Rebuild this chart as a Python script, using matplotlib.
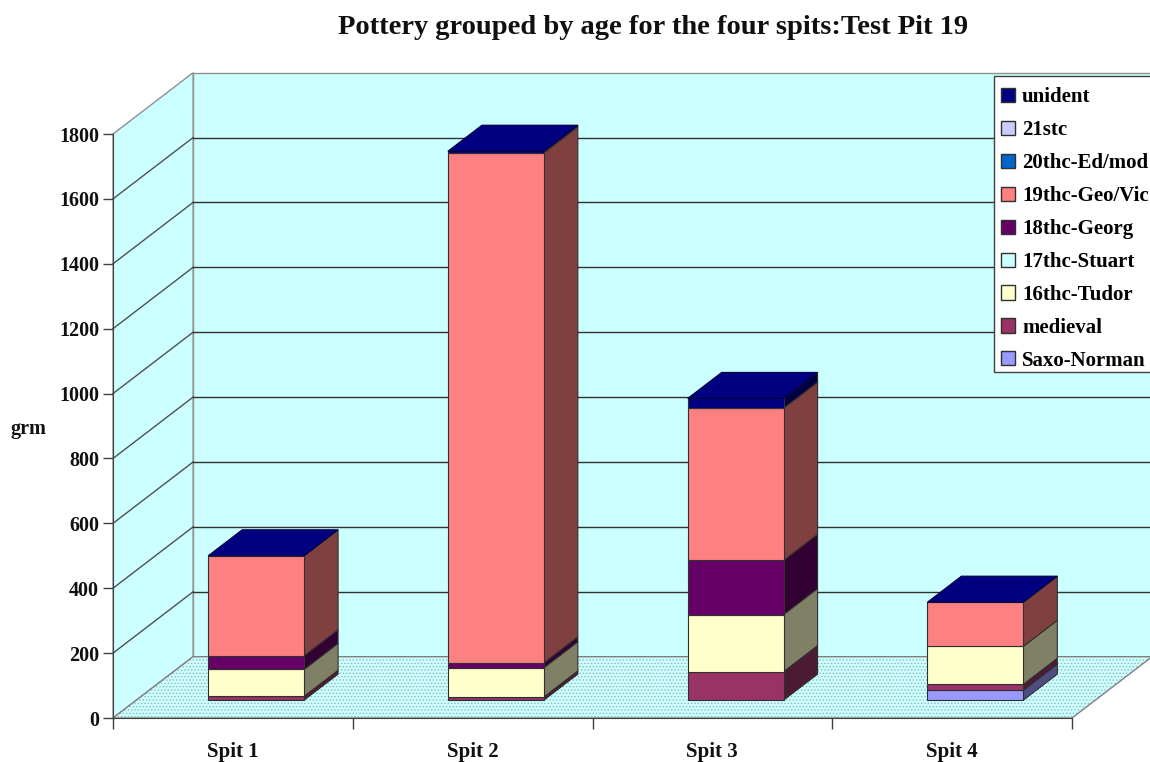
import matplotlib
matplotlib.use("Agg")
import matplotlib.pyplot as plt
from matplotlib.patches import Patch, Rectangle
from matplotlib.colors import to_rgb

spits = ["Spit 1", "Spit 2", "Spit 3", "Spit 4"]
yticks = [0, 200, 400, 600, 800, 1000, 1200, 1400, 1600, 1800]

# bottom of the stack first
series = ["Saxo-Norman", "medieval", "16thc-Tudor", "17thc-Stuart", "18thc-Georg",
          "19thc-Geo/Vic", "20thc-Ed/mod", "21stc", "unident"]
saxo = [0, 0, 0, 31]
medieval = [12, 10, 88, 18]
tudor = [83, 90, 176, 117]
stuart = [0, 0, 0, 0]
georg = [42, 15, 167, 0]
geovic = [308, 1572, 469, 136]
edmod = [0, 0, 0, 0]
c21 = [0, 0, 0, 0]
unident = [0, 5, 30, 0]
values = [saxo, medieval, tudor, stuart, georg, geovic, edmod, c21, unident]
colors = ["#9999FF", "#993366", "#FFFFCC", "#CCFFFF", "#660066",
          "#FF8080", "#0066CC", "#CCCCFF", "#000080"]

plt.rcParams["font.family"] = ["Liberation Serif"]
plt.rcParams["font.weight"] = "bold"
plt.rcParams["hatch.linewidth"] = 0.6

fig = plt.figure(figsize=(11.5, 7.62), dpi=100)
ax = fig.add_axes([113 / 1150, 44 / 762, 959 / 1150, 584 / 762])
ax.set_xlim(0, 4)
ax.set_ylim(0, 1800)
ax.patch.set_visible(False)

# depth of the box in data units
dx = 0.334
dy = 189


def proj(x, v, d):
    return x + d * dx, v + d * dy


def face(pts, **kw):
    xs = [proj(*p)[0] for p in pts]
    ys = [proj(*p)[1] for p in pts]
    ax.fill(xs, ys, clip_on=False, **kw)


top = 1800
# walls and floor
face([(0, 0, 1), (4, 0, 1), (4, top, 1), (0, top, 1)], facecolor="#CCFFFF", edgecolor="#909090", lw=1, zorder=1)
face([(0, 0, 0), (0, 0, 1), (0, top, 1), (0, top, 0)], facecolor="#CCFFFF", edgecolor="#909090", lw=1, zorder=1)
floor = [(0, 0, 0), (4, 0, 0), (4, 0, 1), (0, 0, 1)]
face(floor, facecolor="#CCFFFF", edgecolor="#8FB8B8", lw=0, hatch=".....", zorder=1)
face(floor, fill=False, edgecolor="#808080", lw=1, zorder=1)

for t in yticks[1:-1]:
    x0, y0 = proj(0, t, 0)
    x1, y1 = proj(0, t, 1)
    x2, y2 = proj(4, t, 1)
    ax.plot([x0, x1], [y0, y1], color="#505050", lw=1, clip_on=False, zorder=2)
    ax.plot([x1, x2], [y1, y2], color="#303030", lw=1, clip_on=False, zorder=2)

# stacked bars
width = 0.4
d0 = 0.29
d1 = 0.715
for i in range(len(spits)):
    xl = i + 0.5 - width / 2
    xr = i + 0.5 + width / 2
    base = 0
    for vals, col in zip(values, colors):
        v = vals[i]
        if v > 0:
            side = tuple(c * 0.5 for c in to_rgb(col))
            face([(xr, base, d0), (xr, base, d1), (xr, base + v, d1), (xr, base + v, d0)],
                 facecolor=side, edgecolor="#303030", lw=0.8, zorder=3)
            face([(xl, base, d0), (xr, base, d0), (xr, base + v, d0), (xl, base + v, d0)],
                 facecolor=col, edgecolor="#303030", lw=0.8, zorder=4)
        base += v
    face([(xl, base, d0), (xr, base, d0), (xr, base, d1), (xl, base, d1)],
         facecolor=colors[-1], edgecolor="#000040", lw=0.8, zorder=5)

# axes
for s in ["top", "right"]:
    ax.spines[s].set_visible(False)
for s in ["left", "bottom"]:
    ax.spines[s].set_color("#404040")
    ax.spines[s].set_zorder(6)
ax.set_yticks(yticks)
ax.set_yticklabels([str(t) for t in yticks])
ax.set_xticks(range(5))
ax.set_xticklabels([])
ax.set_xticks([i + 0.5 for i in range(4)], minor=True)
ax.set_xticklabels(spits, minor=True)
ax.tick_params(axis="y", length=7, width=1, color="#404040", pad=3, labelsize=14.5, labelcolor="#101010")
ax.tick_params(axis="x", which="major", length=8, width=1, color="#404040")
ax.tick_params(axis="x", which="minor", length=0, pad=17, labelsize=15, labelcolor="#101010")

fig.text(653 / 1150, 1 - 27 / 762, "Pottery grouped by age for the four spits:Test Pit 19",
         ha="center", va="center", fontsize=20.5, color="#101010")
fig.text(28 / 1150, 1 - 429 / 762, "grm", ha="center", va="center", fontsize=14.5, color="#101010")

# legend box drawn apart, its top padding is bigger than the bottom one
fig.add_artist(Rectangle((994 / 1150, 1 - 372 / 762), 200 / 1150, 296 / 762,
                         transform=fig.transFigure, facecolor="white", edgecolor="#404040",
                         lw=1, zorder=9))
handles = [Patch(facecolor=c, edgecolor="#303030", label=s)
           for s, c in zip(series[::-1], colors[::-1])]
leg = fig.legend(handles=handles, loc="upper left",
                 bbox_to_anchor=(993 / 1150, 1 - 79 / 762),
                 borderaxespad=0, fontsize=15, labelspacing=0.62, handlelength=0.67,
                 handleheight=0.67, handletextpad=0.33, borderpad=0.4,
                 frameon=False, alignment="left")
leg.set_zorder(10)

plt.savefig("out.png", dpi=100)
